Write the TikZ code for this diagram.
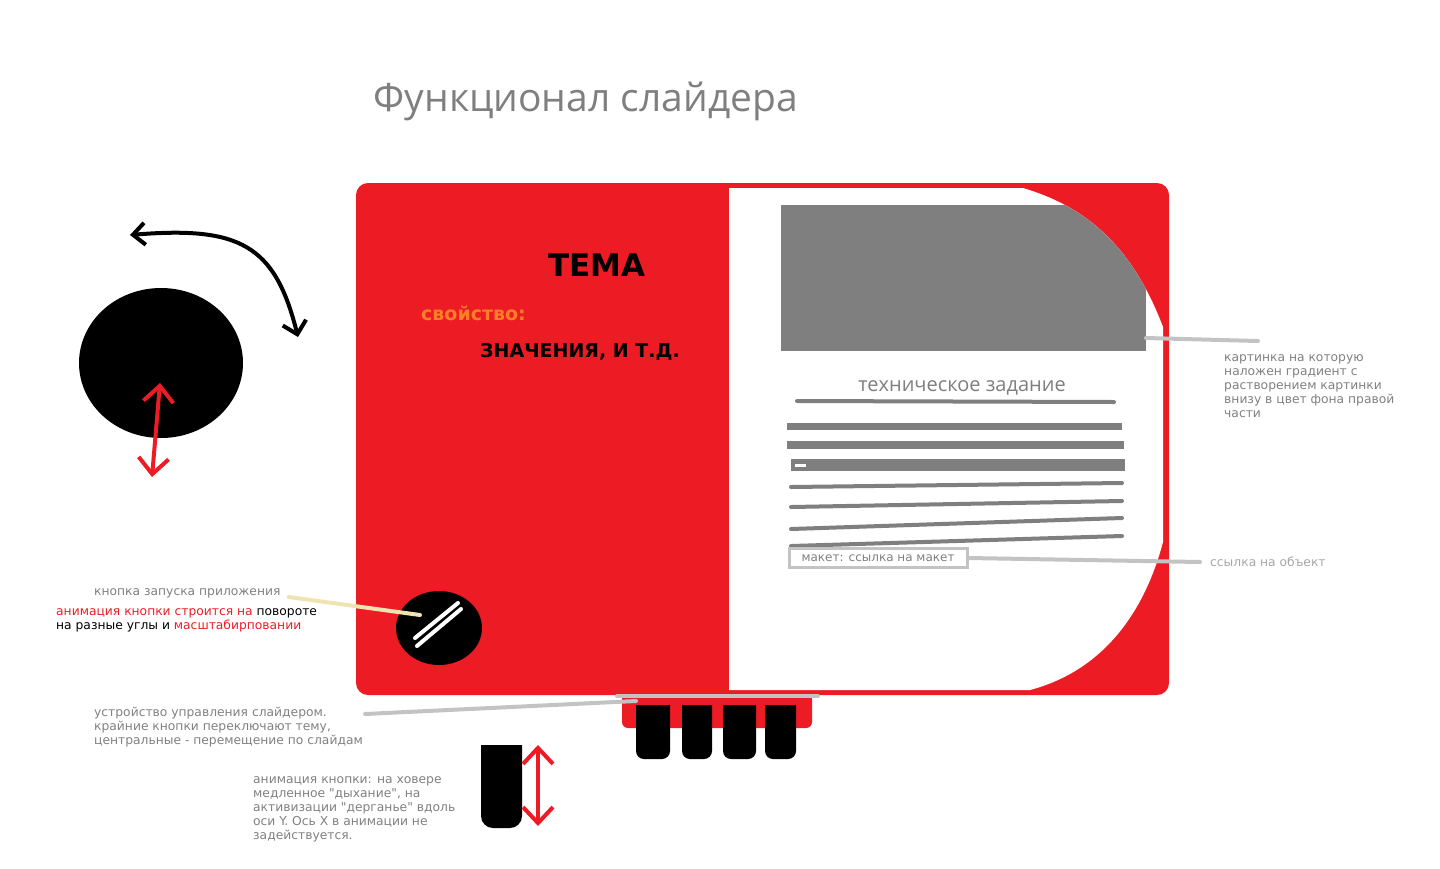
\documentclass[tikz,border=0pt]{standalone}
\usepackage{fontspec}
\setmainfont{DejaVu Sans}[Ligatures=TeXOff]
\newfontfamily\headfont{Open Sans}
\usetikzlibrary{arrows.meta,positioning,calc}

\definecolor{slred}{HTML}{ED1C24}
\definecolor{imggray}{HTML}{7F7F7F}
\definecolor{notegray}{HTML}{808080}
\definecolor{linegray}{HTML}{C3C3C3}
\definecolor{beige}{HTML}{EFE4B0}
\definecolor{propcol}{HTML}{FF7F27}

\begin{document}
\begin{tikzpicture}[x=1pt, y=-1pt,
    note/.style={font=\fontsize{12.3}{14}\selectfont, text=notegray, align=left, inner sep=0pt, anchor=north west},
    leader/.style={line width=4pt, line cap=round},
    textbar/.style={imggray, line width=4pt, line cap=round},
    twoway/.style={line width=4pt, {Straight Barb[length=16pt,width=30pt]}-{Straight Barb[length=16pt,width=30pt]}}]
    \useasboundingbox (0,0) rectangle (1440,868);

    % Title
    \node[font=\headfont\fontsize{39}{44}\selectfont, text=imggray, anchor=west] (title) at (370,101) {Функционал слайдера};

    % Slider body
    \fill[slred, rounded corners=12pt] (356,183) rectangle (1169,695);
    \def\rightpart{(729,188) -- (1023,188) .. controls (1080,205) and (1130,240) .. (1163,327)
        -- (1163,542) .. controls (1145,610) and (1105,670) .. (1030,690) -- (729,690) -- cycle}
    \fill[white] \rightpart;
    \begin{scope}
        \clip \rightpart;
        \fill[imggray] (781,205) rectangle (1146,351);
    \end{scope}
    \coordinate (picedge) at (1146,338);

    % Left part texts
    \node[font=\bfseries\fontsize{31}{33}\selectfont] (theme) at (597,265) {ТЕМА};
    \node[font=\bfseries\fontsize{19}{21}\selectfont, text=propcol, anchor=west, inner sep=0pt] (prop) at (421,313) {свойство:};
    \node[font=\bfseries\fontsize{19}{21}\selectfont, anchor=west, inner sep=0pt] (values) at (480,352) {ЗНАЧЕНИЯ, И Т.Д.};

    % Launch button
    \fill (439,628) ellipse[x radius=43, y radius=37];
    \draw[white, line width=4pt, line cap=round] (415,638) -- (458,603);
    \draw[white, line width=4pt, line cap=round] (417,646) -- (461,609);
    \coordinate (btnhit) at (420,615);

    % Right part: spec
    \node[font=\headfont\fontsize{20}{24}\selectfont, text=imggray] (spec) at (962,388) {техническое задание};
    \draw[textbar] (797,401) -- (1114,402);
    \fill[imggray] (787,423) rectangle (1122,430);
    \fill[imggray] (787,441) rectangle (1124,449);
    \fill[imggray] (791,459) rectangle (1125,471);
    \fill[white] (795,464) rectangle (806,467);
    \foreach \ya/\yb in {487/483, 507/501, 529/518, 546/536}
        \draw[textbar] (791,\ya) -- (1122,\yb);
    \node[draw=linegray, line width=3pt, minimum width=178pt, minimum height=19pt, inner sep=0pt,
        font=\fontsize{12}{14}\selectfont, text=notegray] (maket) at (878,558) {макет: ссылка на макет};

    % Control device
    \fill[slred, rounded corners=6pt] (622,693) rectangle (812,728);
    \begin{scope}
        \clip (600,705) rectangle (830,780);
        \foreach \xa/\xb in {636/670, 682/712, 723/756, 765/796}
            \fill[rounded corners=8pt] (\xa,690) rectangle (\xb,759);
    \end{scope}
    \coordinate (devtop) at (636,701);
    \draw[linegray, leader] (617,696) -- (818,696);

    % Round button with rotation / scale hints
    \fill (161,363) ellipse[x radius=82, y radius=75];
    \coordinate (rotA) at (130,235);
    \coordinate (rotB) at (298,337);
    \draw[line width=4pt, {Straight Barb[length=12pt,width=22pt]}-{Straight Barb[length=12pt,width=24pt]}]
        (rotA) .. controls (240,226) and (275,245) .. (rotB);
    \coordinate (scaleA) at (160,383);
    \coordinate (scaleB) at (152,477);
    \draw[slred, twoway] (scaleA) -- (scaleB);

    % Hover button
    \begin{scope}
        \clip (470,745) rectangle (530,840);
        \fill[rounded corners=12pt] (481,730) rectangle (522,828);
    \end{scope}
    \coordinate (shakeA) at (538,745);
    \coordinate (shakeB) at (538,826);
    \draw[slred, twoway] (shakeA) -- (shakeB);

    % Notes
    \node[note] (picnote) at (1224,354) {картинка на которую\\наложен градиент с\\растворением картинки\\внизу в цвет фона правой\\части};
    \coordinate (picnoteend) at (1258,341);
    \draw[linegray, leader] (picedge) -- (picnoteend);

    \node[note, anchor=west, text=linegray!85!black] (linknote) at (1210,562) {ссылка на объект};
    \coordinate (linkend) at ($(linknote.west)+(-10,0)$);
    \draw[linegray, leader] (maket.east) -- (linkend);

    \node[note, anchor=west] (launchnote) at (94,593) {кнопка запуска приложения};
    \draw[beige, leader] ($(launchnote.east)+(8,4)$) -- (btnhit);
    \node[note, text=black] (animnote) at (56,608) {\textcolor{slred}{анимация кнопки строится на} повороте\\на разные углы и \textcolor{slred}{масштабирповании}};

    \node[note] (devnote) at (94,707) {устройство управления слайдером.\\крайние кнопки переключают тему,\\центральные - перемещение по слайдам};
    \coordinate (devnoteend) at (365,714);
    \draw[linegray, leader] (devnoteend) -- (devtop);

    \node[note] (hovernote) at (253,776) {анимация кнопки: на ховере\\медленное "дыхание", на\\активизации "дерганье" вдоль\\оси Y. Ось X в анимации не\\задействуется.};
\end{tikzpicture}
\end{document}
